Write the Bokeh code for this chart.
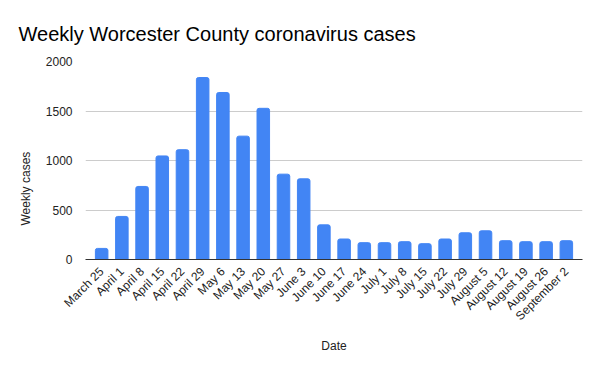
from math import pi
from bokeh.plotting import figure
from bokeh.models import FactorRange, Range1d, FixedTicker, ColumnDataSource, Title
from bokeh.embed import file_html
from bokeh.resources import INLINE

dates = ["March 25", "April 1", "April 8", "April 15", "April 22", "April 29",
         "May 6", "May 13", "May 20", "May 27", "June 3", "June 10", "June 17",
         "June 24", "July 1", "July 8", "July 15", "July 22", "July 29",
         "August 5", "August 12", "August 19", "August 26", "September 2"]
cases = [112, 435, 738, 1046, 1109, 1838, 1687, 1246, 1527, 862, 815, 350, 207,
         170, 170, 180, 160, 207, 270, 290, 190, 180, 180, 190]
y_ticks = [0, 500, 1000, 1500, 2000]

FONT = "Liberation Sans"
src = ColumnDataSource(dict(x=dates, y=cases))

p = figure(width=584, height=355, output_backend="svg", toolbar_location=None,
           x_range=FactorRange(*dates, range_padding=0.025),
           y_range=Range1d(0, 2000),
           title="Weekly Worcester County coronavirus cases",
           min_border_left=85, min_border_right=2, min_border_top=61, min_border_bottom=96)

p.vbar(x="x", top="y", width=0.62, source=src, color="#4285F4", border_radius=(2, 2, 0, 0))

p.title.text_font = FONT
p.title.text_font_size = "20px"
p.title.text_font_style = "normal"
p.title.text_color = "#000000"
p.title.offset = -67
p.title.standoff = 34

ylab = Title(text="Weekly cases", align="left", offset=34, standoff=20,
             text_font=FONT, text_font_size="12px", text_font_style="normal",
             text_color="#222222")
p.add_layout(ylab, "left")

p.outline_line_color = None
p.xgrid.grid_line_color = None
p.ygrid.grid_line_color = "#cccccc"
p.ygrid.grid_line_width = 1

p.yaxis.ticker = FixedTicker(ticks=y_ticks)
p.yaxis.axis_line_color = None
p.yaxis.major_tick_line_color = None
p.yaxis.minor_tick_line_color = None
p.yaxis.major_label_text_font = FONT
p.yaxis.major_label_text_font_size = "12px"
p.yaxis.major_label_text_color = "#222222"
p.yaxis.major_label_standoff = 7

p.xaxis.axis_line_color = "#333333"
p.xaxis.axis_line_width = 1
p.xaxis.major_tick_line_color = None
p.xaxis.minor_tick_line_color = None
p.xaxis.major_label_orientation = pi / 4
p.xaxis.major_label_text_font = FONT
p.xaxis.major_label_text_font_size = "12px"
p.xaxis.major_label_text_color = "#222222"
p.xaxis.major_label_standoff = 4
p.xaxis.axis_label = "Date"
p.xaxis.axis_label_text_font = FONT
p.xaxis.axis_label_text_font_size = "12px"
p.xaxis.axis_label_text_font_style = "normal"
p.xaxis.axis_label_text_color = "#222222"
p.xaxis.axis_label_standoff = 8

open("out.html", "w").write(file_html(p, INLINE))
